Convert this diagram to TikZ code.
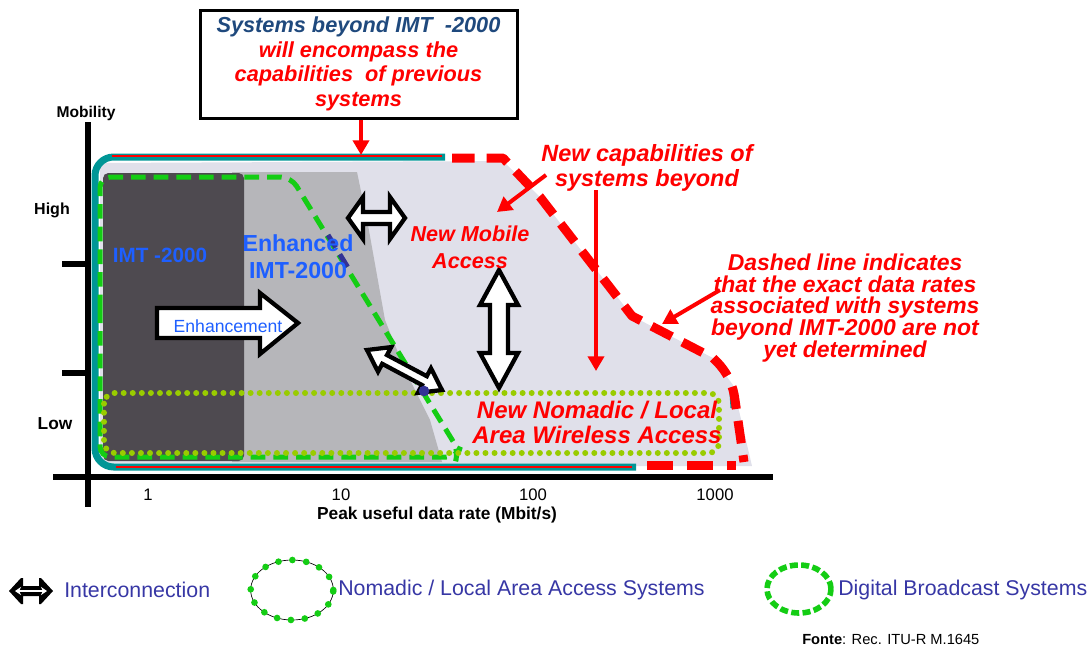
\documentclass[tikz,border=0pt]{standalone}
\usepackage{fontspec}
\setmainfont{Liberation Sans}
\usetikzlibrary{arrows.meta,calc}
\definecolor{teal2}{RGB}{0,150,150}
\definecolor{grn}{RGB}{20,205,20}
\definecolor{ygrn}{RGB}{153,204,0}
\definecolor{imtblue}{RGB}{30,95,255}
\definecolor{navy2}{RGB}{31,73,125}
\definecolor{navy3}{RGB}{50,50,150}
\definecolor{legtxt}{RGB}{55,55,165}
\definecolor{lightbg}{RGB}{224,224,234}
\definecolor{midgray}{RGB}{182,182,186}
\definecolor{darkgray2}{RGB}{78,74,80}
\begin{document}
\begin{tikzpicture}[x=0.75pt,y=-0.75pt,
  redarrow/.style={draw=red, line width=3pt, -{Triangle[length=11pt,width=12pt]}},
  blockarrow/.style={draw=black, fill=white, line width=3.2pt, line join=miter},
  lbl/.style={inner sep=0pt, align=center},
  redtxt/.style={lbl, text=red},
  axistxt/.style={inner sep=0pt, text=black},
  legend/.style={inner sep=0pt, anchor=west, text=legtxt, font=\fontsize{16}{18}\selectfont},
  reddash/.style={draw=red, line width=6.75pt, dash pattern=on 17pt off 9pt},
  tealline/.style={draw=teal2, line width=5.25pt},
  redthin/.style={draw=red, line width=2pt},
  grndash/.style={draw=grn, line width=3.75pt, dash pattern=on 11pt off 6pt},
  dots/.style={draw=ygrn, line width=4.5pt, line cap=round, dash pattern=on 0pt off 6.8pt}
]
\useasboundingbox (0,0) rectangle (1087,650);

% ---------- regions ----------
\fill[lightbg] (100,163) -- (503,161) -- (540,197) -- (632,316) -- (713,358) -- (733,385) -- (752,466) -- (100,466) -- cycle;
\fill[midgray] (232,172) -- (357,172) -- (368,225) -- (385,320) -- (405,370) -- (430,420) -- (442,462) -- (232,462) -- cycle;
\fill[darkgray2, rounded corners=4] (103,173) rectangle (244,461);

% ---------- teal outline ----------
\draw[tealline, rounded corners=14] (445,157) -- (95,157) -- (95,467) -- (636,467);
\draw[redthin] (112,156) -- (442,156);
\draw[redthin] (116,467) -- (632,467);
\draw[tealline] (733,393) -- (734,408);
\draw[red, line width=1.5pt] (733,395) -- (734,406);

% ---------- enhanced IMT-2000 outline ----------
\draw[grndash, rounded corners=8] (100,320) -- (100,177) -- (291,177) -- (459,451) -- (457,457) -- (100,457) -- cycle;
\draw[navy3, line width=3.75pt, dash pattern=on 11pt off 6pt] (328,235) -- (350,271);

% ---------- nomadic dotted area ----------
\draw[dots, rounded corners=8] (104,393) rectangle (719,453);

% ---------- red dashed outline ----------
\draw[reddash, line join=round] (452,158) -- (503,158) -- (540,197) -- (632,316) -- (713,358) .. controls (728,372) and (733,385) .. (735,400) -- (744,462);
\draw[reddash, dash pattern=on 19.5pt off 10.5pt] (647,465) -- (736,465);

% ---------- axes ----------
\draw[black, line width=4.5pt] (88,122) -- (88,507);
\draw[black, line width=4.5pt] (53,477) -- (773,477);
\draw[black, line width=3.8pt] (62,264) -- (88,264);
\draw[black, line width=3.8pt] (62,373) -- (88,373);

% ---------- block arrows ----------
\draw[blockarrow] (348,218) -- (363,197) -- (363,212) -- (390,212) -- (390,197) -- (405,218) -- (390,239) -- (390,224) -- (363,224) -- (363,239) -- cycle;
\draw[blockarrow] (499,270) -- (518,305) -- (508,305) -- (508,353) -- (518,353) -- (499,388) -- (480,353) -- (490,353) -- (490,305) -- (480,305) -- cycle;
\draw[blockarrow] (157,308) -- (260,308) -- (260,293) -- (298,323) -- (260,354) -- (260,338) -- (157,338) -- cycle;
\draw[blockarrow] (367,350) -- (378.0,371.7) -- (382.2,363.8) -- (422.0,385.0) -- (417.8,392.9) -- (442,390) -- (431.0,368.3) -- (426.8,376.2) -- (387.0,355.0) -- (391.2,347.1) -- cycle;
\fill[navy3] (424,391) circle [radius=4pt];

% ---------- region labels ----------
\node[lbl, text=imtblue, font=\fontsize{15.5}{18}\selectfont\bfseries] (imt) at (160,255) {IMT -2000};
\node[lbl, text=imtblue, font=\fontsize{17.4}{20}\selectfont\bfseries] (enh) at (298,257) {Enhanced\\IMT-2000};
\node[lbl, text=imtblue, font=\fontsize{13.2}{15}\selectfont] (enhlbl) at (228,326) {Enhancement};
\node[redtxt, font=\fontsize{16.2}{20}\selectfont\bfseries\itshape] (mobile) at (470,247) {New Mobile\\Access};
\node[redtxt, font=\fontsize{18}{18.75}\selectfont\bfseries\itshape] (nomadic) at (597,422) {New Nomadic / Local\\Area Wireless Access};

% ---------- callouts ----------
\node[redtxt, font=\fontsize{17.6}{19}\selectfont\bfseries\itshape] (newcap) at (647,168) {New capabilities of\\systems beyond};
\coordinate (nc1) at (546,175);
\coordinate (mobtip) at (497,212);
\draw[redarrow] (nc1) -- (mobtip);
\coordinate (nc2) at (596,190);
\coordinate (nomtip) at (596,371);
\draw[redarrow] (nc2) -- (nomtip);

\node[redtxt, font=\fontsize{17.2}{16.2}\selectfont\bfseries\itshape] (dashtxt) at (845,308) {Dashed line indicates\\that the exact data rates\\associated with systems\\beyond IMT-2000 are not\\yet determined};
\coordinate (dt1) at (720,290);
\coordinate (dttip) at (662,324);
\draw[redarrow] (dt1) -- (dttip);

\node[draw=black, line width=2.25pt, minimum width=237.75pt, minimum height=81pt, align=center, inner sep=0pt,
      font=\fontsize{16.3}{18.5}\selectfont\bfseries\itshape] (topbox) at (358.5,64)
  {\textcolor{navy2}{Systems beyond IMT\ \ -2000}\\\textcolor{red}{will encompass the}\\\textcolor{red}{capabilities\ \ of previous}\\\textcolor{red}{systems}};
\coordinate (topline) at (361,155);
\draw[redarrow] (topbox.south -| topline) -- (topline);

% ---------- axis labels ----------
\node[axistxt, font=\fontsize{11.7}{13}\selectfont\bfseries] (mob) at (86,113) {Mobility};
\node[axistxt, font=\fontsize{12}{14}\selectfont\bfseries] (high) at (52,210) {High};
\node[axistxt, font=\fontsize{13}{14}\selectfont\bfseries] (low) at (55,424) {Low};
\node[axistxt, font=\fontsize{12.5}{14}\selectfont] (t1) at (148,495) {1};
\node[axistxt, font=\fontsize{12.5}{14}\selectfont] (t10) at (341,495) {10};
\node[axistxt, font=\fontsize{12.5}{14}\selectfont] (t100) at (533,495) {100};
\node[axistxt, font=\fontsize{12.5}{14}\selectfont] (t1000) at (715,495) {1000};
\node[axistxt, font=\fontsize{13}{14}\selectfont\bfseries] (xlab) at (437,515) {Peak useful data rate (Mbit/s)};

% ---------- legend ----------
\fill[black] (9,591) -- (21,578) -- (23,578) -- (23,586) -- (39,586) -- (39,578) -- (41,578) -- (53,591) -- (41,604) -- (39,604) -- (39,596) -- (23,596) -- (23,604) -- (21,604) -- cycle;
\draw[white, line width=1.4pt, {Stealth[length=4.5pt,width=6pt]}-{Stealth[length=4.5pt,width=6pt]}] (15,591) -- (47,591);
\node[legend] (leg1) at (64,590) {Interconnection};
\draw[black, line width=0.5pt] (292,590) ellipse [x radius=31pt, y radius=22.5pt];
\draw[draw=grn, line width=5pt, line cap=round, dash pattern=on 0pt off 10.5pt] (292,590) ellipse [x radius=31pt, y radius=22.5pt];
\node[legend] (leg2) at (338,590) {Nomadic / Local Area Access Systems};
\draw[grndash, line width=4.2pt, dash pattern=on 6pt off 2.5pt] (799,589) ellipse [x radius=24pt, y radius=18pt];
\node[legend] (leg3) at (838,590) {Digital Broadcast Systems};
\node[inner sep=0pt, anchor=west, font=\fontsize{11}{12}\selectfont] (fonte) at (802,639) {\textbf{Fonte}: Rec. ITU-R M.1645};
\end{tikzpicture}
\end{document}
